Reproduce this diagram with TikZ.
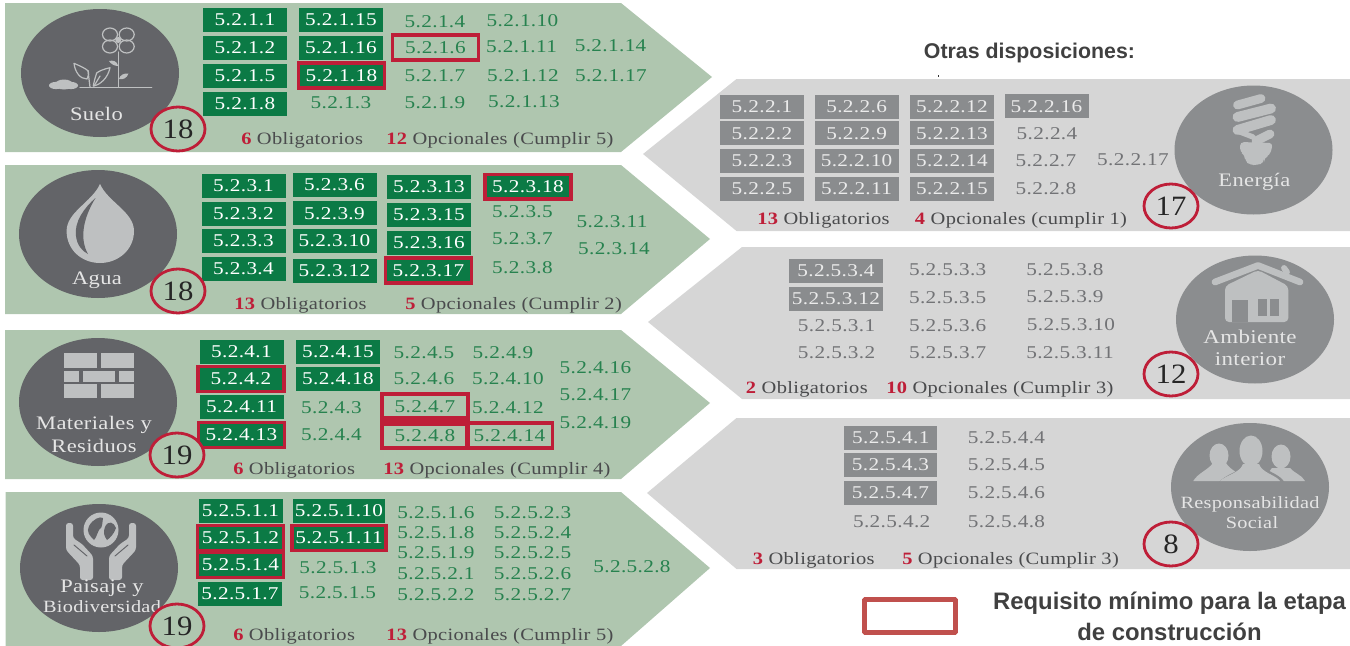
\documentclass[tikz,border=0pt]{standalone}
\usepackage{fontspec}
\setmainfont{Liberation Serif}[LetterSpace=2,FakeStretch=1.18]
\newfontfamily\plainserif{Liberation Serif}[FakeStretch=1.1]
\newfontfamily\arialb{Liberation Sans}
\definecolor{panelgreen}{HTML}{AFC6AF}
\definecolor{panelgray}{HTML}{D6D6D6}
\definecolor{boxgreen}{HTML}{0B7A45}
\definecolor{boxgray}{HTML}{8A8C8E}
\definecolor{txtgreen}{HTML}{27824F}
\definecolor{txtgray}{HTML}{727376}
\definecolor{disc}{HTML}{636468}
\definecolor{discgray}{HTML}{8B8D8F}
\definecolor{icon}{HTML}{BEC0C1}
\definecolor{redmark}{HTML}{BE1E38}
\definecolor{legendred}{HTML}{C0504D}
\definecolor{foottxt}{HTML}{4A4B4D}
\newcommand{\szA}{\fontsize{13.5pt}{15pt}\selectfont}
\newcommand{\szB}{\fontsize{13pt}{14pt}\selectfont}
\newcommand{\szC}{\fontsize{14.3pt}{16pt}\selectfont}
\newcommand{\szE}{\fontsize{12.9pt}{15pt}\selectfont}
\newcommand{\szF}{\fontsize{14.6pt}{17pt}\selectfont}
\newcommand{\szD}{\plainserif\fontsize{21pt}{24pt}\selectfont}
\tikzset{
 x=0.75pt,y=-0.75pt,
 gbox/.style={fill=boxgreen,text=white,font=\szA,inner sep=0pt,minimum width=63pt,minimum height=18pt},
 wbox/.style={gbox,minimum width=69pt},
 rgbox/.style={gbox,draw=redmark,line width=2.5pt,minimum width=64.5pt,minimum height=18.6pt},
 wrgbox/.style={rgbox,minimum width=70.5pt},
 grbox/.style={gbox,fill=boxgray,text=white!92!black},
 gwbox/.style={grbox,minimum width=70pt},
 gtxt/.style={text=txtgreen,font=\szA,inner sep=0pt},
 ytxt/.style={text=txtgray,font=\szA,inner sep=0pt},
 rhollow/.style={draw=redmark,line width=2.5pt,inner sep=0pt,minimum width=64.5pt,minimum height=18.6pt,text=txtgreen,font=\szA},
 foot/.style={anchor=west,inner sep=0pt,text=foottxt,font=\szB,yshift=-1.2pt},
 disclabel/.style={text=white!90!black,font=\szC,inner sep=0pt,yshift=-0.8pt},
 numlabel/.style={text=black!85,font=\szD,inner sep=0pt},
 numring/.style={draw=redmark,line width=2.1pt},
 headtxt/.style={font=\arialb\bfseries\fontsize{16pt}{19pt}\selectfont,text=black!75,inner sep=0pt,align=center},
 legendtxt/.style={font=\arialb\bfseries\fontsize{17.9pt}{20pt}\selectfont,text=black!75,inner sep=0pt,align=center}
}
\newcommand{\rd}[1]{{\color{redmark}\bfseries #1}}
\begin{document}
\begin{tikzpicture}
\useasboundingbox (0,0) rectangle (1350,646);
% panels
\fill[panelgreen] (5,3)--(621,3)--(712,77)--(621,152)--(5,152)--cycle;
\fill[panelgreen] (5,165)--(621,165)--(710,239)--(621,314)--(5,314)--cycle;
\fill[panelgreen] (5,330)--(621,330)--(710,403)--(621,479)--(5,479)--cycle;
\fill[panelgreen] (5.5,492)--(621,492)--(710,568)--(621,646)--(5.5,646)--cycle;
\fill[panelgray] (1350,79)--(736.5,79)--(643,154)--(736.5,231)--(1350,231)--cycle;
\fill[panelgray] (1350,247)--(742,247)--(648,322)--(742,399)--(1350,399)--cycle;
\fill[panelgray] (1350,418)--(736.5,418)--(647,493)--(736.5,569)--(1350,569)--cycle;
% discs
\fill[disc] (100,73) ellipse [x radius=79,y radius=64];
\fill[disc] (98,234) ellipse [x radius=79,y radius=64];
\fill[disc] (98,402) ellipse [x radius=79,y radius=64];
\fill[disc] (99,568) ellipse [x radius=79,y radius=64];
\fill[discgray] (1253.5,150) ellipse [x radius=79,y radius=64.5];
\fill[discgray] (1255,319.5) ellipse [x radius=79,y radius=64];
\fill[discgray] (1250,487) ellipse [x radius=79,y radius=64];
% flower icon
\begin{scope}[draw=icon,line width=0.9pt,line cap=round,line join=round]
\foreach \px/\py in {110/34.5,126.7/34.5,110/46.5,126.7/46.5}
  \draw (\px,\py) ellipse [x radius=7.5,y radius=6.5];
\fill[icon] (118.3,40) circle [radius=3];
\draw (118.3,52)--(118.3,87);
\draw (80,87.3)--(151.7,87.3);
\draw (74,63.3) .. controls (80,66) and (85,68) .. (88.3,71) .. controls (89,75) and (88,77) .. (87,79) .. controls (80,79) and (75,72) .. (74,63.3)--cycle;
\draw (90,87)--(88,71);
\draw (110,67.7) .. controls (104,69) and (99,71) .. (96.7,73) .. controls (95,78) and (94,82) .. (93.3,86) .. controls (100,85) and (108,78) .. (110,67.7)--cycle;
\draw (94,86)--(100,76);
\fill[icon] (109,61) .. controls (113,60) and (117,61) .. (118.3,66) .. controls (114,66) and (111,64) .. (109,61)--cycle;
\fill[icon] (128.5,73.5) .. controls (124,73) and (120,75) .. (119,79) .. controls (123,80) and (127,78) .. (128.5,73.5)--cycle;
\fill[icon] (56,85.5) ellipse [x radius=7,y radius=3.6];
\fill[icon] (64,84.5) ellipse [x radius=9,y radius=5];
\fill[icon] (71,85.5) ellipse [x radius=7,y radius=3.6];
\end{scope}
% drop icon
\fill[icon] (100,184) .. controls (92,202) and (66.6,212) .. (66.6,231) .. controls (66.6,250) and (82,263) .. (100,263) .. controls (118,263) and (134,250) .. (134,231) .. controls (134,212) and (108,202) .. (100,184)--cycle;
\fill[disc] (95.5,198) .. controls (84,208) and (74,222) .. (76,236) .. controls (77,245) and (82,251) .. (88,254) .. controls (80,240) and (82,220) .. (95.5,198)--cycle;
% bricks icon
\foreach \ya/\yb/\xs in {353/367.7/{64/97,101/134},370.7/381.7/{64/79,82.6/114.8,118.5/134},384/398/{64/97,101/134}}
  \foreach \xa/\xb in \xs
    \fill[icon] (\xa,\ya) rectangle (\xb,\yb);
% hands icon
\begin{scope}
\fill[icon] (101,530) circle [radius=17.5];
\fill[disc] (89,526) .. controls (93,519) and (100,516) .. (103,518) .. controls (102,524) and (103,527) .. (99,530) .. controls (97,534) and (96,538) .. (94,540) .. controls (90,536) and (86,532) .. (89,526)--cycle;
\fill[disc] (105,527) .. controls (108,520) and (114,522) .. (116,528) .. controls (114,534) and (110,538) .. (107,540) .. controls (104,536) and (103,532) .. (105,527)--cycle;
\foreach \m in {1,-1}{
 \begin{scope}[shift={(101,0)},xscale=\m]
 \fill[icon,rounded corners=2pt] (-35,523)--(-35,550)--(-21,565)--(-21,580)--(-8,580)--(-8,556)--(-19,544)--(-28,538)--(-28,523)--cycle;
 \draw[disc,line width=0.7pt,line cap=round] (-27,545)--(-14,556);
 \end{scope}}
\end{scope}
% bulb icon
\begin{scope}[icon,line cap=round,line join=round]
\draw[line width=6.6pt] (1237.5,105)--(1261,98.5);
\draw[line width=7.4pt] (1237.5,117)--(1271,108.5);
\draw[line width=7.4pt] (1237.5,130)--(1271,120);
\draw[line width=4pt] (1237.5,131)--(1253,137);
\draw[line width=6.6pt] (1256,141)--(1270,134);
\fill[rounded corners=3pt] (1240,142)--(1273,143)--(1270,155)--(1264,158)--(1264,163)--(1257,165)--(1250,165)--(1245,161)--(1245,155)--(1240,152)--cycle;
\end{scope}
% house icon
\begin{scope}
\fill[icon,rounded corners=3pt] (1225,286)--(1258,270)--(1288.3,286)--(1288.3,322)--(1225,322)--cycle;
\draw[icon,line width=5pt,line cap=round,line join=round] (1215,282)--(1258,265.5)--(1300,282);
\draw[icon,line width=4.4pt,line cap=round] (1284,268)--(1287,272);
\fill[discgray] (1231.7,300) rectangle (1248.3,322);
\fill[discgray] (1257.7,299.3) rectangle (1266.7,315.7);
\fill[discgray] (1270,299.3) rectangle (1279.3,315.7);
\end{scope}
% people icon
\begin{scope}
\fill[icon] (1219,455.5) ellipse [x radius=9.5,y radius=12];
\fill[icon] (1193.3,481) .. controls (1198,473) and (1208,470) .. (1213,463) -- (1226,463) .. controls (1230,470) and (1240,473) .. (1246,481)--cycle;
\fill[icon] (1281,456.5) ellipse [x radius=9.5,y radius=12];
\fill[icon] (1262,481) -- (1272,468) -- (1290,468) .. controls (1294,473) and (1302,475) .. (1305,481)--cycle;
\fill[discgray] (1218,483) .. controls (1226,474) and (1238,472) .. (1244,466) -- (1262,466) .. controls (1268,472) and (1280,474) .. (1285,483)--cycle;
\fill[icon] (1251,451) ellipse [x radius=11.5,y radius=15.5];
\fill[icon] (1220,481) .. controls (1226,475) and (1240,473) .. (1243,464) -- (1259,464) .. controls (1262,473) and (1276,475) .. (1280,481)--cycle;
\end{scope}
% green boxes
\foreach \t/\px/\py in {5.2.1.1/245/20,5.2.1.2/245/48,5.2.1.5/245/76,5.2.1.8/245/103.5,5.2.1.15/341/20,5.2.1.16/341/48,
 5.2.3.1/243.5/186,5.2.3.2/243.5/214,5.2.3.3/243.5/241,5.2.3.4/243.5/269,5.2.3.6/334.5/185,5.2.3.9/334.5/213.3,5.2.3.10/334.5/241,5.2.3.12/334.5/270.6,5.2.3.13/429/187,5.2.3.15/429/215,5.2.3.16/429/243,
 5.2.4.1/241.5/351.7,5.2.4.11/241.5/407,5.2.4.15/338/351.7,5.2.4.18/338/378.7,
 5.2.5.1.1/240.5/511,5.2.5.1.7/240/594}
  \node[gbox] (b\t) at (\px,\py) {\t};
\node[wbox] (b5.2.5.1.10) at (339,510.5) {5.2.5.1.10};
% green boxes with red border
\foreach \t/\px/\py in {5.2.1.18/341.5/75.5,5.2.3.17/428.5/270.5,5.2.3.18/528/186.7,5.2.4.2/241/379,5.2.4.13/241.5/435,5.2.5.1.2/240.5/538,5.2.5.1.4/240.5/565}
  \node[rgbox] (b\t) at (\px,\py) {\t};
\node[wrgbox] (b5.2.5.1.11) at (339,538) {5.2.5.1.11};
% hollow red boxes
\fill[redmark] (381,416) rectangle (469,426);
\foreach \t/\px/\py in {5.2.1.6/435.5/47.5,5.2.4.7/425/406.5,5.2.4.8/425/435.5,5.2.4.14/509.5/435.5}
  \node[rhollow] (b\t) at (\px,\py) {\t};
% green texts
\foreach \t/\px/\py in {5.2.1.3/341/103,5.2.1.4/435/21.7,5.2.1.7/435/76,5.2.1.9/435/103,5.2.1.10/522.5/21,5.2.1.11/521.6/47,5.2.1.12/523/76,5.2.1.13/524/102,5.2.1.14/610.6/46,5.2.1.17/611/76,
 5.2.3.5/522.5/212,5.2.3.7/522.5/239,5.2.3.8/522.5/268,5.2.3.11/612/221.7,5.2.3.14/614/249,
 5.2.4.3/331.5/408,5.2.4.4/331.5/435,5.2.4.5/424/353,5.2.4.6/424/379,5.2.4.9/503/353,5.2.4.10/508/379,5.2.4.12/508/408,5.2.4.16/595.5/368,5.2.4.17/595.5/395,5.2.4.19/595.5/423,
 5.2.5.1.3/338/568,5.2.5.1.5/337.5/593,5.2.5.1.6/436/513,5.2.5.1.8/436/533,5.2.5.1.9/436/553,5.2.5.2.1/436/574,5.2.5.2.2/436/595,5.2.5.2.3/532.6/513,5.2.5.2.4/532.6/533,5.2.5.2.5/532.6/553,5.2.5.2.6/532.6/574,5.2.5.2.7/532.6/595,5.2.5.2.8/632/567}
  \node[gtxt] (t\t) at (\px,\py) {\t};
% gray boxes
\foreach \t/\px/\py in {5.2.2.1/762/107,5.2.2.2/762/133.3,5.2.2.3/762/160.8,5.2.2.5/762/188.5,5.2.2.6/856.6/107,5.2.2.9/856.6/133.3,5.2.2.10/856.6/160.8,5.2.2.11/856.6/188.5,5.2.2.12/952/107,5.2.2.13/952/133.3,5.2.2.14/952/160.8,5.2.2.15/952/188.5,5.2.2.16/1046.5/106.3}
  \node[grbox] (b\t) at (\px,\py) {\t};
\foreach \t/\px/\py in {5.2.5.3.4/836/271,5.2.5.3.12/836/298.7,5.2.5.4.1/890.8/438,5.2.5.4.3/890.5/465,5.2.5.4.7/890.5/493}
  \node[gwbox] (b\t) at (\px,\py) {\t};
% gray texts
\foreach \t/\px/\py in {5.2.2.4/1047/134,5.2.2.7/1046/161,5.2.2.8/1046/188.7,5.2.2.17/1133/160,
 5.2.5.3.1/836.6/326,5.2.5.3.2/836.6/352.7,5.2.5.3.3/947.7/270,5.2.5.3.5/947.7/298,5.2.5.3.6/947.7/326,5.2.5.3.7/947.7/352.7,5.2.5.3.8/1065/270,5.2.5.3.9/1065/297,5.2.5.3.10/1071/325,5.2.5.3.11/1070/352.7,
 5.2.5.4.2/891.7/522,5.2.5.4.4/1006.5/438,5.2.5.4.5/1006.5/465,5.2.5.4.6/1006.5/493,5.2.5.4.8/1006.5/522}
  \node[ytxt] (t\t) at (\px,\py) {\t};
% footers
\node[foot] (f1a) at (241,139) {\rd{6} Obligatorios};
\node[foot] (f1b) at (386,139) {\rd{12} Opcionales (Cumplir 5)};
\node[foot] (f2a) at (234,304) {\rd{13} Obligatorios};
\node[foot] (f2b) at (405,304) {\rd{5} Opcionales (Cumplir 2)};
\node[foot] (f3a) at (233,469) {\rd{6} Obligatorios};
\node[foot] (f3b) at (383,469) {\rd{13} Opcionales (Cumplir 4)};
\node[foot] (f4a) at (233,635) {\rd{6} Obligatorios};
\node[foot] (f4b) at (386,635) {\rd{13} Opcionales (Cumplir 5)};
\node[foot] (f5a) at (757,219) {\rd{13} Obligatorios};
\node[foot] (f5b) at (914.7,219) {\rd{4} Opcionales (cumplir 1)};
\node[foot] (f6a) at (745.7,388) {\rd{2} Obligatorios};
\node[foot] (f6b) at (886,388) {\rd{10} Opcionales (Cumplir 3)};
\node[foot] (f7a) at (752.6,559) {\rd{3} Obligatorios};
\node[foot] (f7b) at (902,559) {\rd{5} Opcionales (Cumplir 3)};
% disc labels
\node[disclabel] (l1) at (96.4,113) {Suelo};
\node[disclabel] (l2) at (97,279) {Agua};
\node[disclabel] (l3a) at (94,423.7) {Materiales y};
\node[disclabel] (l3b) at (94,445) {Residuos};
\node[disclabel] (l4a) at (102,587) {Paisaje y};
\node[disclabel,font=\szE] (l4b) at (102,606) {Biodiversidad};
\node[disclabel] (l5) at (1254.4,181) {Energía};
\node[disclabel,font=\szF] (l6a) at (1250,336) {Ambiente};
\node[disclabel,font=\szF] (l6b) at (1250,357.7) {interior};
\node[disclabel,font=\szE] (l7a) at (1250,503) {Responsabilidad};
\node[disclabel,font=\szE] (l7b) at (1252,522) {Social};
% number rings
\foreach \px/\py/\n/\c in {178/129/18/panelgreen,178/291/18/panelgreen,177/455/19/panelgreen,177/626/19/panelgreen,1171/206/17/panelgray,1171/374/12/panelgray,1171/544/8/panelgray}{
  \draw[numring,fill=\c] (\px,\py) ellipse [x radius=27,y radius=22];
  \node[numlabel] (n\px-\py) at (\px,\py) {\n};
}
% heading and legend
\node[headtxt] (h) at (1029.5,53) {Otras disposiciones:};
\fill[black!80] (938,74.5) rectangle (939.3,76.5);
\draw[legendred,line width=3.4pt,rounded corners=0.5pt] (864.5,599.5) rectangle (955.5,632.5);
\node[legendtxt] (r1) at (1169.5,603) {Requisito mínimo para la etapa};
\node[legendtxt] (r2) at (1169.5,632) {de construcción};
\end{tikzpicture}
\end{document}
